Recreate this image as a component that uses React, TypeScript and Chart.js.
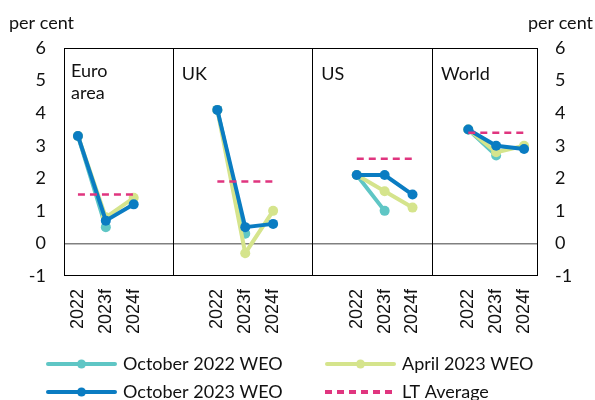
import React, { useEffect, useRef } from 'react';
import { Chart, registerables } from 'chart.js';

Chart.register(...registerables);

// ---- data ----
const categories = [
  '2022', '2023f', '2024f', '', '',
  '2022', '2023f', '2024f', '', '',
  '2022', '2023f', '2024f', '',
  '2022', '2023f', '2024f',
];
const oct2022 = [3.3, 0.5, null, null, null, 4.1, 0.3, null, null, null, 2.1, 1.0, null, null, 3.5, 2.7, null];
const apr2023 = [3.3, 0.8, 1.4, null, null, 4.1, -0.3, 1.0, null, null, 2.1, 1.6, 1.1, null, 3.5, 2.8, 3.0];
const oct2023 = [3.3, 0.7, 1.2, null, null, 4.1, 0.5, 0.6, null, null, 2.1, 2.1, 1.5, null, 3.5, 3.0, 2.9];
const ltAverage = [1.5, 1.5, 1.5, null, null, 1.9, 1.9, 1.9, null, null, 2.6, 2.6, 2.6, null, 3.4, 3.4, 3.4];
const seriesNames = ['October 2022 WEO', 'April 2023 WEO', 'October 2023 WEO', 'LT Average'];
const panelNames = [['Euro', 'area'], ['UK'], ['US'], ['World']];
const panelStarts = [-0.5, 3.4, 8.4, 12.7];
const dividers = [3.4, 8.4, 12.7];
const yMin = -1;
const yMax = 6;
const unitLabel = 'per cent';

const COLORS = ['#5fc6c5', '#d5e48c', '#0a7cc2', '#e0357f'];
const FONT = 'Lato, "Open Sans", sans-serif';

const framePlugin = {
  id: 'frame',
  beforeDatasetsDraw(chart: any) {
    const { ctx, chartArea: a, scales } = chart;
    const x = scales.x;
    ctx.save();
    ctx.strokeStyle = '#000';
    ctx.lineWidth = 1;
    ctx.strokeRect(a.left + 0.5, a.top + 0.5, a.right - a.left - 1, a.bottom - a.top - 1);
    dividers.forEach((d) => {
      const px = Math.round(x.getPixelForValue(d)) + 0.5;
      ctx.beginPath();
      ctx.moveTo(px, a.top);
      ctx.lineTo(px, a.bottom);
      ctx.stroke();
    });
    ctx.restore();
  },
  afterDraw(chart: any) {
    const { ctx, chartArea: a, scales, width } = chart;
    const x = scales.x;
    ctx.save();
    ctx.fillStyle = '#111';
    ctx.font = `18px ${FONT}`;
    ctx.textBaseline = 'middle';
    // panel names
    panelNames.forEach((lines, i) => {
      const px = i === 0 ? a.left + 7 : x.getPixelForValue(panelStarts[i]) + 9;
      lines.forEach((t, j) => {
        ctx.textAlign = 'left';
        ctx.fillText(t, px, (lines.length > 1 ? 71 : 74) + j * 22);
      });
    });
    // unit labels
    ctx.textAlign = 'left';
    ctx.fillText(unitLabel, 9, 23);
    ctx.textAlign = 'right';
    ctx.fillText(unitLabel, width - 2, 23);
    // legend
    const colX = [46, 325];
    const rowY = [364, 392];
    const lineLen = 71;
    chart.data.datasets.forEach((ds: any, i: number) => {
      const lx = colX[i % 2];
      const ly = rowY[Math.floor(i / 2)];
      ctx.strokeStyle = ds.borderColor;
      ctx.lineWidth = 4;
      ctx.lineCap = ds.borderDash ? 'butt' : 'round';
      ctx.setLineDash(ds.borderDash || []);
      ctx.beginPath();
      ctx.moveTo(lx + (ds.borderDash ? 0 : 2), ly);
      ctx.lineTo(lx + lineLen - (ds.borderDash ? 0 : 2), ly);
      ctx.stroke();
      ctx.setLineDash([]);
      if (ds.pointRadius > 0) {
        ctx.fillStyle = ds.borderColor;
        ctx.beginPath();
        ctx.arc(lx + lineLen / 2, ly, 4.5, 0, Math.PI * 2);
        ctx.fill();
      }
      ctx.fillStyle = '#111';
      ctx.textAlign = 'left';
      ctx.fillText(ds.label, lx + lineLen + 6, ly);
    });
    ctx.restore();
  },
};

export default function App() {
  const ref = useRef<HTMLCanvasElement>(null);
  useEffect(() => {
    document.body.style.margin = '0';
    const series = [oct2022, apr2023, oct2023];
    const datasets: any[] = series.map((data, i) => ({
      label: seriesNames[i],
      data,
      borderColor: COLORS[i],
      backgroundColor: COLORS[i],
      pointBackgroundColor: COLORS[i],
      pointBorderWidth: 0,
      pointRadius: 5,
      borderWidth: 4,
      tension: 0,
      order: 3 - i,
      yAxisID: 'y',
    }));
    datasets.push({
      label: seriesNames[3],
      data: ltAverage,
      borderColor: COLORS[3],
      backgroundColor: COLORS[3],
      borderWidth: 2.5,
      borderDash: [7, 5],
      pointRadius: 0,
      tension: 0,
      order: 0,
      yAxisID: 'y',
    });
    const yTickFont = { family: FONT, size: 18 };
    const chart = new Chart(ref.current!, {
      type: 'line',
      data: { labels: categories, datasets },
      plugins: [framePlugin],
      options: {
        animation: false,
        responsive: false,
        devicePixelRatio: 1,
        layout: { padding: { top: 48, left: 0, right: 0, bottom: 0 } },
        plugins: { legend: { display: false }, tooltip: { enabled: false } },
        scales: {
          x: {
            type: 'category',
            offset: true,
            grid: { display: false, drawTicks: false },
            border: { display: false },
            ticks: {
              autoSkip: false,
              minRotation: 90,
              maxRotation: 90,
              padding: 13,
              color: '#111',
              font: { family: '"Liberation Sans", Arial, sans-serif', size: 18 },
            },
            afterFit: (s: any) => { s.height = 124; },
          },
          y: {
            position: 'left',
            min: yMin,
            max: yMax,
            grid: {
              drawTicks: false,
              color: (c: any) => (c.tick && c.tick.value === 0 ? '#808080' : 'rgba(0,0,0,0)'),
              lineWidth: 1.5,
            },
            border: { display: false },
            ticks: { stepSize: 1, padding: 18, color: '#111', font: yTickFont },
            afterFit: (s: any) => { s.width = 64; },
          },
          y2: {
            position: 'right',
            min: yMin,
            max: yMax,
            grid: { display: false, drawTicks: false },
            border: { display: false },
            ticks: { stepSize: 1, padding: 17, color: '#111', font: yTickFont },
            afterFit: (s: any) => { s.width = 57; },
          },
        },
      },
    });
    return () => chart.destroy();
  }, []);
  return (
    <div style={{ position: 'absolute', left: 0, top: 0, width: 595, height: 400 }}>
      <canvas ref={ref} width={595} height={400} />
    </div>
  );
}
